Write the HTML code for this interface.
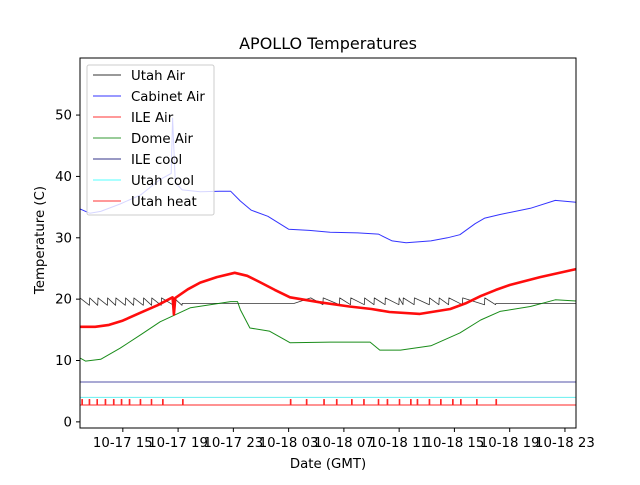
<!DOCTYPE html>
<html><head><meta charset="utf-8"><style>
html,body{margin:0;padding:0;background:#fff;}
svg text{font-family:"DejaVu Sans","Liberation Sans",sans-serif;fill:#000;}
</style></head><body>
<svg id="chart" width="640" height="480" xmlns="http://www.w3.org/2000/svg">
<rect width="640" height="480" fill="#fff"/>
<g id="series"></g>
<g id="axes"></g>
<text x="328" y="49" font-size="16" text-anchor="middle">APOLLO Temperatures</text>
<text x="328" y="468" font-size="13.3" text-anchor="middle">Date (GMT)</text>
<text transform="translate(44,240) rotate(-90)" font-size="13.3" text-anchor="middle">Temperature (C)</text>
<g id="legend"></g>
</svg>
<script>
const xTickHours=[15,19,23,27,31,35,39,43,47];
const xTickLabels=["10-17 15","10-17 19","10-17 23","10-18 03","10-18 07","10-18 11","10-18 15","10-18 19","10-18 23"];
const yTicks=[0,10,20,30,40,50];
const cabinetT=[11.9,12.6,13.4,14.8,16.3,17.7,18.5,18.6,18.8,19.3,20.6,22,22.8,23.5,24.3,25.5,27,28.5,30,32,33.5,34.5,35.5,37.3,38.5,39.4,40.5,41.2,42.3,44.5,46.3,47.8];
const cabinetV=[34.7,34,34.3,35.5,37,39.5,40.5,49.5,39,37.8,37.5,37.6,37.6,36,34.5,33.5,31.4,31.2,30.9,30.8,30.6,29.5,29.2,29.5,30,30.5,32.3,33.2,33.8,34.8,36.1,35.8];
const ileAirT=[11.9,13,14,15,16.3,17.5,18.6,18.7,18.8,19.7,20.6,21.8,23.1,24.0,24.9,26,27.1,29.2,31.4,33,34.3,36.5,38.7,39.8,40.9,42,43,45.2,47.8];
const ileAirV=[15.5,15.5,15.8,16.5,17.8,19.0,20.3,17.5,20.2,21.6,22.7,23.6,24.3,23.8,22.8,21.5,20.3,19.5,18.8,18.4,17.9,17.6,18.4,19.3,20.5,21.5,22.3,23.6,24.9];
const domeT=[11.9,12.3,13.4,14.8,16.3,17.7,19.9,22.8,23.3,23.5,24.2,25.6,26.7,27.1,30,32.9,33.6,35.1,37.3,39.4,40.9,42.3,44.5,46.3,47.8];
const domeV=[10.4,9.9,10.2,12,14.2,16.3,18.6,19.6,19.6,18.3,15.3,14.8,13.4,12.9,13,13,11.7,11.7,12.4,14.5,16.6,18,18.8,19.9,19.7];
const utahTeethA=[11.9,12.6,13.2,13.9,14.5,15.2,15.8,16.5,17.1,17.8,18.7];
const utahTeethB=[28.6,29.5,30.7,31.5,32.5,33.2,34,35,35.3,36.1,37.2,37.9,38.6,39.6,41.2];
const utahBaseT=[19.3,27.4,42,47.8];
const utahBaseV=[19.3,19.3,19.3,19.3];
const ileCoolV=6.5, utahCoolV=4.0, utahHeatBase=2.75, utahHeatOn=3.65;
const heatPulses=[12.03,12.56,13.12,13.72,14.32,14.88,15.46,16.25,17.05,17.87,19.32,27.12,28.28,29.54,30.46,31.55,32.43,33.48,34.13,35.0,35.82,36.3,37.17,37.99,38.86,39.44,40.6,42.0];
const X0=80,X1=576,Y0=58,Y1=428;
const hMin=11.9,hMax=47.8,vMin=-1.0,vMax=59.3;
const xs=h=>X0+(h-hMin)/(hMax-hMin)*(X1-X0);
const ys=v=>Y1-(v-vMin)/(vMax-vMin)*(Y1-Y0);
const NS="http://www.w3.org/2000/svg";
function mk(tag,attrs,parent){const e=document.createElementNS(NS,tag);for(const k in attrs)e.setAttribute(k,attrs[k]);parent.appendChild(e);return e;}
const S=document.getElementById('series'),A=document.getElementById('axes'),L=document.getElementById('legend');
function poly(T,V,color,w,name,op){
  const p=T.map((t,i)=>xs(Math.max(hMin,t)).toFixed(1)+','+ys(V[i]).toFixed(1)).join(' ');
  const e=mk('polyline',{points:p,fill:'none',stroke:color,'stroke-width':w,'stroke-opacity':op,'stroke-linejoin':'round'},S);
  
  
}
function hline(v,color,name,op,w){const e=mk('line',{x1:X0,x2:X1,y1:ys(v),y2:ys(v),stroke:color,'stroke-width':w,'stroke-opacity':op},S);
  
  }
hline(ileCoolV,'#000080','ile-cool-line',0.45,1.5);
hline(utahCoolV,'#00e5e5','utah-cool-line',0.6,1);
{const hp=[];hp.push([hMin,utahHeatBase]);heatPulses.forEach(t=>{const tt=Math.max(hMin,t);hp.push([tt,utahHeatBase],[tt,utahHeatOn],[tt+0.05,utahHeatOn],[tt+0.05,utahHeatBase]);});hp.push([hMax,utahHeatBase]);
 poly(hp.map(a=>a[0]),hp.map(a=>a[1]),'#ff0000',1,'utah-heat-line',0.85);}
{const T=[],V=[];
 utahTeethA.forEach((t,i)=>{const nx=i<utahTeethA.length-1?utahTeethA[i+1]:19.3;T.push(t,nx-0.02);V.push(20.2,19.0);});
 utahBaseT.slice(0,2).forEach((t,i)=>{T.push(t);V.push(utahBaseV[i]);});
 utahTeethB.forEach((t,i)=>{const nx=i<utahTeethB.length-1?utahTeethB[i+1]:42;T.push(t,nx-0.02);V.push(20.2,19.1);});
 utahBaseT.slice(2).forEach((t,i)=>{T.push(t);V.push(utahBaseV[i+2]);});
 poly(T,V,'#000',0.8,'utah-air-line',0.8);}
poly(domeT,domeV,'#008000',1,'dome-air-line',0.9);
poly(ileAirT,ileAirV,'#ff0000',2.6,'ile-air-line',0.95);
poly(cabinetT,cabinetV,'#0000ff',1,'cabinet-air-line',0.8);
mk('rect',{x:X0,y:Y0,width:X1-X0,height:Y1-Y0,fill:'none',stroke:'#000','stroke-width':1},A);
yTicks.forEach(v=>{const y=ys(v);
 mk('line',{x1:X0-4,x2:X0,y1:y,y2:y,stroke:'#000'},A);
 const t=mk('text',{x:X0-8,y:y+4.5,'font-size':13.3,'text-anchor':'end'},A);t.textContent=v;
 
 });
xTickHours.forEach((h,i)=>{const x=xs(h);
 mk('line',{x1:x,x2:x,y1:Y1,y2:Y1+4,stroke:'#000'},A);
 const t=mk('text',{x:x,y:Y1+19,'font-size':13.3,'text-anchor':'middle'},A);t.textContent=xTickLabels[i];
 
 });
const legNames=["Utah Air","Cabinet Air","ILE Air","Dome Air","ILE cool","Utah cool","Utah heat"];
const legColors=["#333","#3333ff","#ff3333","#339933","#333388","#55ffff","#ff3333"];
mk('rect',{x:87,y:65,width:127,height:150,rx:2,fill:'#fff','fill-opacity':0.8,stroke:'#ccc'},L);
legNames.forEach((n,i)=>{const y=75+i*21;
 const g=mk('g',{},L);
 
 
 mk('line',{x1:93,x2:121,y1:y,y2:y,stroke:legColors[i],'stroke-width':1},g);
 const t=mk('text',{x:131,y:y+5,'font-size':13.3},g);t.textContent=n;});
</script>
</body></html>
